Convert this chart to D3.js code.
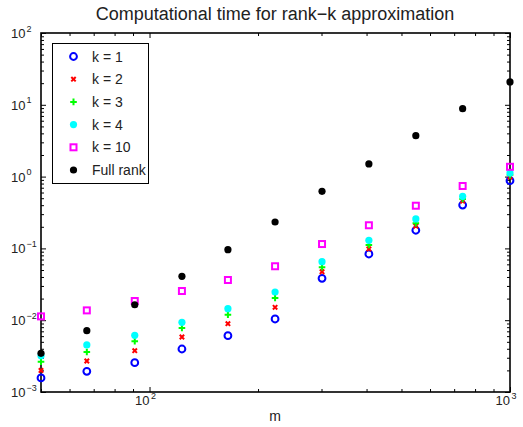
<!DOCTYPE html>
<html>
<head>
<meta charset="utf-8">
<script src="https://cdn.jsdelivr.net/npm/d3@7"></script>
<style>
  body { margin: 0; background: #fff; }
  svg { display: block; font-family: "Liberation Sans", Arial, sans-serif; }
</style>
</head>
<body>
<svg width="523" height="427"></svg>
<script>
// problem size m
var mVals = [50, 67, 91, 123, 165, 223, 301, 406, 548, 739, 1000];

// timings (seconds)
var k1   = [0.00157, 0.00194, 0.00256, 0.00397, 0.00608, 0.0104, 0.0383, 0.0836, 0.179, 0.402, 0.877];
var k2   = [0.0020, 0.0027, 0.00376, 0.00583, 0.00894, 0.0151, 0.0473, 0.0982, 0.205, 0.457, 0.986];
var k3   = [0.00264, 0.00361, 0.00508, 0.00778, 0.0119, 0.0204, 0.0546, 0.1115, 0.224, 0.488, 1.05];
var k4   = [0.0032, 0.00452, 0.00616, 0.00935, 0.01445, 0.0247, 0.0653, 0.1297, 0.257, 0.532, 1.12];
var k10  = [0.0113, 0.0137, 0.0185, 0.0255, 0.0363, 0.0564, 0.115, 0.210, 0.393, 0.740, 1.37];
var full = [0.00346, 0.00714, 0.0164, 0.0408, 0.0959, 0.233, 0.624, 1.50, 3.71, 8.83, 20.8];

var seriesNames = ["k = 1", "k = 2", "k = 3", "k = 4", "k = 10", "Full rank"];
var xTickExps = [2, 3];
var yTickExps = [-3, -2, -1, 0, 1, 2];

var series = [
    { name: seriesNames[0], values: k1,   marker: "circle", color: "#0000ff" },
    { name: seriesNames[1], values: k2,   marker: "x",      color: "#ff0000" },
    { name: seriesNames[2], values: k3,   marker: "plus",   color: "#00ff00" },
    { name: seriesNames[3], values: k4,   marker: "dot",    color: "#00ffff" },
    { name: seriesNames[4], values: k10,  marker: "square", color: "#ff00ff" },
    { name: seriesNames[5], values: full, marker: "dot",    color: "#000000" }
];

var plotL = 41, plotR = 510, plotT = 33, plotB = 392;

var x = d3.scaleLog().domain([50, 1000]).range([plotL, plotR]);
var y = d3.scaleLog().domain([1e-3, 1e2]).range([plotB, plotT]);

var svg = d3.select("svg");

// minor / major tick values
var xMajor = xTickExps.map(e => Math.pow(10, e));
var xMinor = [];
for (var d = 1; d <= 2; d++) {
    for (var j = 2; j <= 9; j++) {
        var v = j * Math.pow(10, d);
        if (v >= 50 && v <= 1000) xMinor.push(v);
    }
}
var yMajor = yTickExps.map(e => Math.pow(10, e));
var yMinor = [];
for (var d = -3; d <= 1; d++) {
    for (var j = 2; j <= 9; j++) yMinor.push(j * Math.pow(10, d));
}

function drawAxis(axisFn, scale, vals, size, transform) {
    var g = svg.append("g")
        .attr("transform", transform)
        .call(axisFn(scale).tickValues(vals).tickSize(size).tickFormat(""));
    g.select(".domain").remove();
    g.selectAll("line").attr("stroke", "#000").attr("stroke-width", 1);
}

// ticks point inward on all four sides
drawAxis(d3.axisBottom, x, xMinor, -3, "translate(0," + plotB + ")");
drawAxis(d3.axisBottom, x, xMajor, -5, "translate(0," + plotB + ")");
drawAxis(d3.axisTop, x, xMinor, -3, "translate(0," + plotT + ")");
drawAxis(d3.axisTop, x, xMajor, -5, "translate(0," + plotT + ")");
drawAxis(d3.axisLeft, y, yMinor, -3, "translate(" + plotL + ",0)");
drawAxis(d3.axisLeft, y, yMajor, -5, "translate(" + plotL + ",0)");
drawAxis(d3.axisRight, y, yMinor, -3, "translate(" + plotR + ",0)");
drawAxis(d3.axisRight, y, yMajor, -5, "translate(" + plotR + ",0)");

svg.append("rect")
    .attr("x", plotL).attr("y", plotT)
    .attr("width", plotR - plotL).attr("height", plotB - plotT)
    .attr("fill", "none").attr("stroke", "#000").attr("stroke-width", 1.6);

// tick labels: 10 with superscript exponent
var xl = svg.append("g").attr("font-size", 13).attr("fill", "#222");
xTickExps.forEach(function (e) {
    var px = x(Math.pow(10, e));
    xl.append("text").attr("x", px).attr("y", 405).attr("text-anchor", "end").text("10");
    xl.append("text").attr("x", px + 1.5).attr("y", 398.5).attr("font-size", 9).text(e);
});

var yl = svg.append("g").attr("font-size", 13).attr("fill", "#222");
yTickExps.forEach(function (e) {
    var py = y(Math.pow(10, e));
    yl.append("text").attr("x", 11).attr("y", py + 5).text("10");
    yl.append("text").attr("x", 26.5).attr("y", py - 1.5).attr("font-size", 9)
        .text(e < 0 ? "\u2212" + (-e) : e);
});

svg.append("text")
    .attr("x", 275).attr("y", 20)
    .attr("text-anchor", "middle").attr("font-size", 18)
    .attr("fill", "#222")
    .text("Computational time for rank\u2212k approximation");

svg.append("text")
    .attr("x", 275).attr("y", 421)
    .attr("text-anchor", "middle").attr("font-size", 14)
    .attr("fill", "#222")
    .text("m");

function drawMarker(g, type, color) {
    if (type === "circle") {
        g.append("circle").attr("r", 3.4).attr("fill", "none")
            .attr("stroke", color).attr("stroke-width", 2);
    } else if (type === "dot") {
        g.append("circle").attr("r", 3.6).attr("fill", color);
    } else if (type === "square") {
        g.append("rect").attr("x", -3).attr("y", -3).attr("width", 6).attr("height", 6)
            .attr("fill", "none").attr("stroke", color).attr("stroke-width", 2);
    } else if (type === "x") {
        g.append("path").attr("d", "M-2.2,-2.2L2.2,2.2M-2.2,2.2L2.2,-2.2")
            .attr("stroke", color).attr("stroke-width", 2);
    } else if (type === "plus") {
        g.append("path").attr("d", "M-3.3,0L3.3,0M0,-3.3L0,3.3")
            .attr("stroke", color).attr("stroke-width", 2);
    }
}

series.forEach(function (s) {
    svg.append("g").selectAll("g")
        .data(s.values)
        .enter()
        .append("g")
        .attr("transform", (d, i) => "translate(" + x(mVals[i]) + "," + y(d) + ")")
        .each(function () { drawMarker(d3.select(this), s.marker, s.color); });
});

// legend
var legend = svg.append("g");
legend.append("rect")
    .attr("x", 52.5).attr("y", 43.5).attr("width", 96).attr("height", 140)
    .attr("fill", "#fff").attr("stroke", "#000").attr("stroke-width", 1);

series.forEach(function (s, i) {
    var ly = 56.5 + i * 22.7;
    var mg = legend.append("g").attr("transform", "translate(73.5," + ly + ")");
    drawMarker(mg, s.marker, s.color);
    legend.append("text")
        .attr("x", 92).attr("y", ly + 5)
        .attr("font-size", 14)
        .attr("fill", "#222")
        .text(s.name);
});
</script>
</body>
</html>
